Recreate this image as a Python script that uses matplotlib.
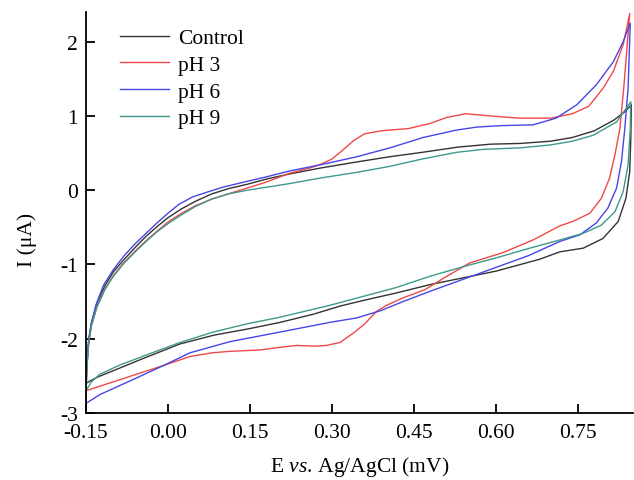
import matplotlib
matplotlib.use("Agg")
import matplotlib.pyplot as plt

plt.rcParams["font.family"] = ["Liberation Serif", "DejaVu Serif"]
plt.rcParams["mathtext.fontset"] = "custom"
plt.rcParams["mathtext.rm"] = "Liberation Serif"
plt.rcParams["mathtext.it"] = "Liberation Serif:italic"
plt.rcParams["axes.unicode_minus"] = False

# cyclic voltammograms, forward scan then reverse scan (E in V, I in uA)
ctrl_E = [-0.150, -0.148, -0.145, -0.140, -0.130, -0.115, -0.100, -0.080, -0.060, -0.040,
          -0.020, 0.000, 0.025, 0.050, 0.080, 0.110, 0.145, 0.180, 0.223, 0.280,
          0.345, 0.405, 0.465, 0.530, 0.590, 0.645, 0.700, 0.740, 0.780, 0.815,
          0.835, 0.848,
          0.847, 0.845, 0.838, 0.824, 0.796, 0.760, 0.717, 0.680, 0.600, 0.540,
          0.480, 0.420, 0.360, 0.315, 0.266, 0.205, 0.145, 0.085, 0.022, -0.040,
          -0.100, -0.130, -0.150]
ctrl_I = [-2.60, -2.30, -2.00, -1.78, -1.52, -1.28, -1.10, -0.93, -0.77, -0.62,
          -0.49, -0.37, -0.25, -0.15, -0.05, 0.02, 0.08, 0.15, 0.22, 0.30,
          0.38, 0.45, 0.51, 0.58, 0.62, 0.63, 0.66, 0.71, 0.80, 0.94,
          1.05, 1.15,
          0.70, 0.25, -0.11, -0.42, -0.65, -0.78, -0.83, -0.93, -1.09, -1.18,
          -1.27, -1.38, -1.48, -1.56, -1.67, -1.78, -1.87, -1.95, -2.07, -2.25,
          -2.43, -2.52, -2.60]

ph3_E = [-0.150, -0.148, -0.145, -0.140, -0.130, -0.115, -0.100, -0.080, -0.060, -0.040,
         -0.020, 0.000, 0.025, 0.050, 0.080, 0.110, 0.145, 0.180, 0.223, 0.260,
         0.280, 0.300, 0.320, 0.340, 0.360, 0.390, 0.440, 0.480, 0.510, 0.545,
         0.590, 0.645, 0.700, 0.740, 0.770, 0.796, 0.815, 0.833, 0.845,
         0.834, 0.827, 0.818, 0.808, 0.793, 0.772, 0.741, 0.717, 0.668, 0.613,
         0.552, 0.510, 0.470, 0.430, 0.400, 0.382, 0.360, 0.340, 0.315, 0.290,
         0.270, 0.235, 0.200, 0.170, 0.113, 0.080, 0.040, 0.000, -0.050, -0.100,
         -0.150]
ph3_I = [-2.70, -2.35, -2.05, -1.82, -1.57, -1.33, -1.15, -0.97, -0.82, -0.68,
         -0.55, -0.43, -0.31, -0.21, -0.12, -0.05, 0.03, 0.11, 0.23, 0.30,
         0.35, 0.42, 0.54, 0.67, 0.76, 0.80, 0.83, 0.90, 0.98, 1.03,
         1.00, 0.97, 0.97, 1.03, 1.13, 1.37, 1.60, 1.96, 2.38,
         1.37, 0.83, 0.48, 0.16, -0.11, -0.31, -0.42, -0.48, -0.67, -0.84,
         -0.98, -1.16, -1.34, -1.45, -1.55, -1.63, -1.80, -1.92, -2.05, -2.09,
         -2.10, -2.09, -2.12, -2.15, -2.17, -2.19, -2.24, -2.34, -2.46, -2.58,
         -2.70]

ph6_E = [-0.150, -0.149, -0.146, -0.141, -0.132, -0.118, -0.100, -0.080, -0.060, -0.040,
         -0.020, 0.000, 0.020, 0.045, 0.070, 0.100, 0.145, 0.180, 0.223, 0.284,
         0.345, 0.406, 0.467, 0.528, 0.565, 0.610, 0.668, 0.710, 0.748, 0.784,
         0.815, 0.833, 0.846,
         0.842, 0.836, 0.830, 0.821, 0.805, 0.784, 0.754, 0.717, 0.660, 0.600,
         0.540, 0.480, 0.430, 0.390, 0.345, 0.296, 0.205, 0.113, 0.040, -0.005,
         -0.070, -0.124, -0.150]
ph6_I = [-2.87, -2.45, -2.10, -1.83, -1.55, -1.28, -1.07, -0.88, -0.72, -0.58,
         -0.44, -0.31, -0.19, -0.09, -0.03, 0.04, 0.12, 0.18, 0.26, 0.35,
         0.45, 0.57, 0.71, 0.81, 0.85, 0.87, 0.88, 0.97, 1.15, 1.42,
         1.73, 2.00, 2.25,
         1.37, 0.83, 0.39, 0.03, -0.24, -0.44, -0.60, -0.69, -0.88, -1.04,
         -1.20, -1.36, -1.50, -1.62, -1.72, -1.78, -1.91, -2.04, -2.19, -2.35,
         -2.57, -2.75, -2.87]

ph9_E = [-0.150, -0.148, -0.145, -0.140, -0.130, -0.115, -0.100, -0.080, -0.060, -0.040,
         -0.020, 0.000, 0.025, 0.050, 0.080, 0.110, 0.145, 0.180, 0.223, 0.284,
         0.345, 0.405, 0.465, 0.528, 0.577, 0.644, 0.700, 0.740, 0.778, 0.821,
         0.847,
         0.846, 0.842, 0.833, 0.818, 0.793, 0.760, 0.717, 0.662, 0.601, 0.540,
         0.479, 0.418, 0.357, 0.296, 0.205, 0.144, 0.083, 0.022, -0.040, -0.090,
         -0.125, -0.140, -0.150]
ph9_I = [-2.70, -2.35, -2.05, -1.82, -1.57, -1.33, -1.16, -0.98, -0.83, -0.69,
         -0.56, -0.45, -0.33, -0.22, -0.12, -0.05, 0.00, 0.04, 0.09, 0.17,
         0.24, 0.32, 0.42, 0.51, 0.55, 0.57, 0.61, 0.66, 0.74, 0.92,
         1.19,
         0.83, 0.34, -0.02, -0.29, -0.47, -0.58, -0.67, -0.78, -0.91, -1.03,
         -1.16, -1.31, -1.43, -1.55, -1.71, -1.80, -1.91, -2.05, -2.22, -2.36,
         -2.48, -2.58, -2.70]

x_ticks = [-0.15, 0.00, 0.15, 0.30, 0.45, 0.60, 0.75]
y_ticks = [-3, -2, -1, 0, 1, 2]

fig = plt.figure(figsize=(6.34, 4.81), dpi=100)
ax = fig.add_axes([86 / 634, 67 / 481, 547 / 634, 401 / 481])

ax.plot(ctrl_E, ctrl_I, color="#333333", lw=1.0, label="Control")
ax.plot(ph3_E, ph3_I, color="#f04848", lw=1.0, label="pH 3")
ax.plot(ph6_E, ph6_I, color="#4646e6", lw=1.0, label="pH 6")
ax.plot(ph9_E, ph9_I, color="#3c9a8c", lw=1.0, label="pH 9")

ax.set_xlim(-0.15, 0.851)
ax.set_ylim(-3, 2.4)
ax.set_xticks(x_ticks)
ax.set_xticklabels([f"{v:.2f}" for v in x_ticks])
ax.set_yticks(y_ticks)

for s in ["top", "right"]:
    ax.spines[s].set_visible(False)
for s in ["left", "bottom"]:
    ax.spines[s].set_linewidth(1.3)
ax.tick_params(direction="in", length=6.5, width=1.3, labelsize=15.5)
ax.tick_params(axis="x", pad=7)
ax.tick_params(axis="y", pad=6)

ax.set_ylabel("I (\u03bcA)", fontsize=15.5)
ax.yaxis.set_label_coords(-0.089, 0.434)
ax.set_xlabel(r"E $\mathit{vs.}\,$Ag/AgCl (mV)", fontsize=15.5)
ax.xaxis.set_label_coords(0.5, -0.102)

ax.legend(loc="upper left", bbox_to_anchor=(0.062, 0.96), frameon=False,
          fontsize=15.5, handlelength=2.3, handletextpad=0.4,
          labelspacing=0.31, borderpad=0, borderaxespad=0)

fig.savefig("out.png", dpi=100)
